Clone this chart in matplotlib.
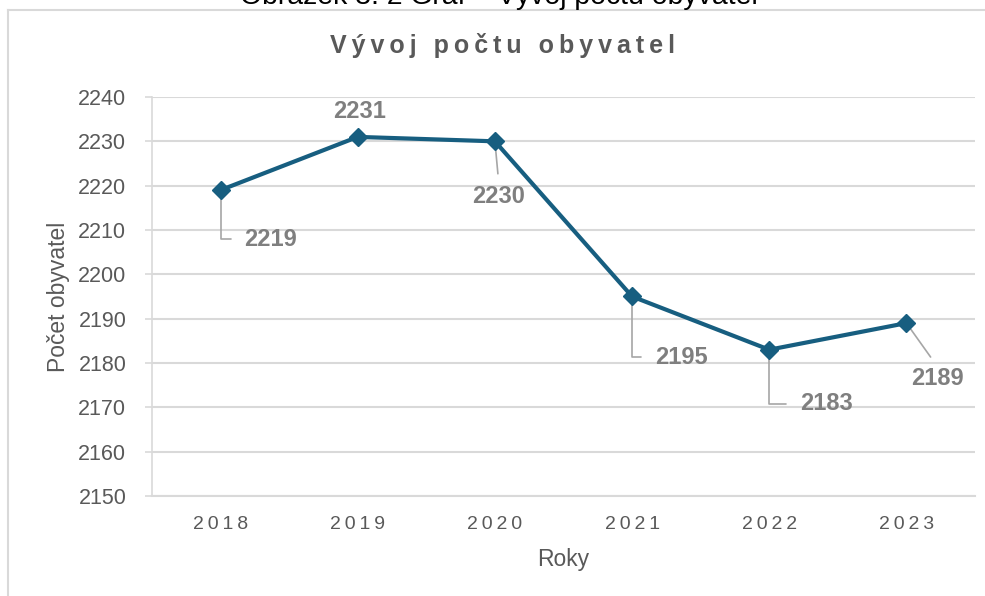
import matplotlib.pyplot as plt
from matplotlib.lines import Line2D

plt.rcParams['font.family'] = ['Liberation Sans', 'DejaVu Sans']

# data
years = ['2018', '2019', '2020', '2021', '2022', '2023']
population = [2219, 2231, 2230, 2195, 2183, 2189]
yticks = [2150, 2160, 2170, 2180, 2190, 2200, 2210, 2220, 2230, 2240]

# label offsets in pixels (dx, dy), alignment, leader style
label_pos = [(24, -49, 'left', 'angle'), (2, 25, 'center', None), (4, -55, 'center', 'straight'),
             (23, -61, 'left', 'angle'), (31, -54, 'left', 'angle'), (31, -55, 'center', 'straight')]

W, H = 985, 596
fig = plt.figure(figsize=(W/100, H/100), dpi=100)
ax = fig.add_axes([152/W, 1-496/H, (975-152)/W, (496-97)/H])

line_col = '#175E80'
grid_col = '#D9D9D9'
txt_col = '#595959'
lab_col = '#7F7F7F'

x = list(range(len(years)))
ax.plot(x, population, color=line_col, lw=3, marker='D', markersize=9, zorder=3)

ax.set_xlim(-0.5, len(years)-0.5)
ax.set_ylim(yticks[0], yticks[-1])
ax.set_yticks(yticks)
ax.set_yticklabels([str(v) for v in yticks], fontsize=15.5, color=txt_col)
ax.set_xticks(x)
ax.set_xticklabels(['\u2009'.join(y) for y in years], fontsize=14, color=txt_col)
ax.tick_params(axis='y', length=5, color=grid_col, width=1.2, pad=13.5)
ax.tick_params(axis='x', length=0, pad=14.5)
ax.grid(axis='y', color=grid_col, lw=1.5)
ax.set_axisbelow(True)
for s in ['top', 'right']:
    ax.spines[s].set_visible(False)
ax.spines['left'].set_color(grid_col)
ax.spines['bottom'].set_color(grid_col)
ax.spines['left'].set_linewidth(1.2)
ax.spines['bottom'].set_linewidth(1.5)

ax.set_xlabel('Roky', fontsize=16.5, color=txt_col, labelpad=11)
ax.set_ylabel('Počet obyvatel', fontsize=16.5, color=txt_col, labelpad=6)

for i, v in enumerate(population):
    dx, dy, ha, kind = label_pos[i]
    if kind == 'angle':
        ap = dict(arrowstyle='-', color='#A6A6A6', lw=1.2, relpos=(0, 0.5),
                  connectionstyle='angle,angleA=0,angleB=90,rad=0', shrinkA=8, shrinkB=0)
    elif kind == 'straight':
        ap = dict(arrowstyle='-', color='#A6A6A6', lw=1.2, relpos=(0.5, 1),
                  shrinkA=6, shrinkB=0)
    else:
        ap = None
    ax.annotate(str(v), xy=(i, v), xytext=(dx, dy), textcoords='offset pixels',
                ha=ha, va='center', fontsize=17, fontweight='bold', color=lab_col,
                arrowprops=ap, zorder=2)

# chart title with letter spacing
title = '\u2009 \u2009'.join('\u2009'.join(w) for w in 'Vývoj počtu obyvatel'.split())
fig.text(502/W, 1-53/H, title, ha='center', va='baseline', fontsize=18,
         fontweight='bold', color=txt_col)

# caption cut off at top + chart frame
fig.text(499/W, 1-4/H, 'Obrázek 3. 2 Graf – Vývoj počtu obyvatel', ha='center',
         va='baseline', fontsize=20.4, color='black')
fig.add_artist(Line2D([8/W, 8/W], [0, 1-10/H], color=grid_col, lw=1.5))
fig.add_artist(Line2D([8/W, 1], [1-10/H, 1-10/H], color=grid_col, lw=1.5))

fig.savefig('out.png', dpi=100)
